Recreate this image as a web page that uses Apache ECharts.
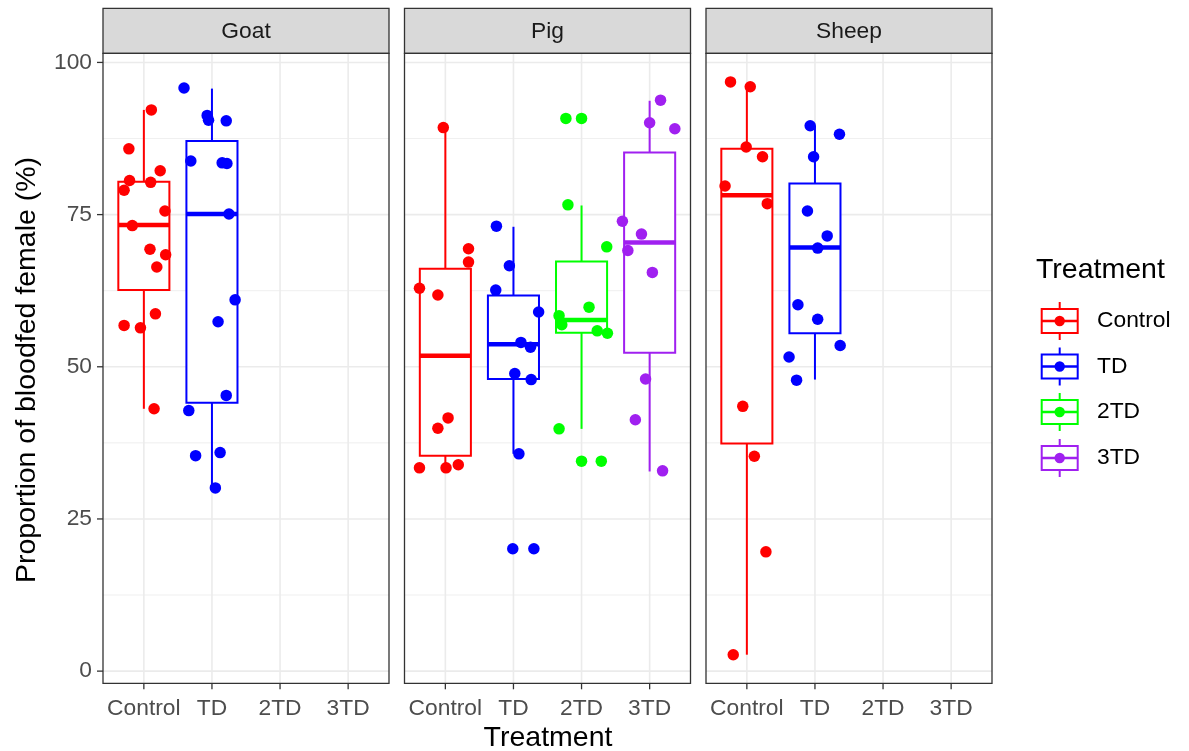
<!DOCTYPE html>
<html><head><meta charset="utf-8">
<script src="https://cdn.jsdelivr.net/npm/echarts@6/dist/echarts.min.js"></script>
<style>html,body{margin:0;padding:0;background:#fff}#c{width:1189px;height:751px}</style>
</head><body><div id="c"></div>
<script>
// ---------- data ----------
const facets = ['Goat', 'Pig', 'Sheep'];
const treatments = ['Control', 'TD', '2TD', '3TD'];
const yTicks = [0, 25, 50, 75, 100];
const yMinorTicks = [12.5, 37.5, 62.5, 87.5];
const xTicks = [1, 2, 3, 4];

// box stats: [lower whisker, Q1, median, Q3, upper whisker]
const goatControlBox = [43.1, 62.6, 73.3, 80.4, 92.2];
const goatTDBox = [30.1, 44.1, 75.1, 87.1, 95.7];
const pigControlBox = [33.4, 35.4, 51.8, 66.1, 89.3];
const pigTDBox = [35.7, 48.0, 53.7, 61.7, 73.0];
const pig2TDBox = [39.8, 55.6, 57.7, 67.3, 76.5];
const pig3TDBox = [32.8, 52.3, 70.4, 85.2, 93.7];
const sheepControlBox = [2.7, 37.4, 78.2, 85.8, 96.0];
const sheepTDBox = [47.9, 55.5, 69.6, 80.1, 89.6];

// observations (%), with horizontal jitter (in category units)
const goatControlY = [92.2, 85.8, 82.2, 80.6, 80.3, 79.0, 75.6, 73.2, 69.3, 68.4, 66.4, 58.7, 56.8, 56.4, 43.1];
const goatControlJitter = [0.11, -0.22, 0.24, -0.21, 0.10, -0.29, 0.31, -0.17, 0.09, 0.32, 0.19, 0.17, -0.29, -0.05, 0.15];
const goatTDY = [95.8, 91.3, 90.5, 90.4, 83.8, 83.5, 83.4, 75.1, 61.0, 57.4, 45.3, 42.8, 35.4, 35.9, 30.1];
const goatTDJitter = [-0.41, -0.07, -0.05, 0.21, -0.31, 0.15, 0.22, 0.25, 0.34, 0.09, 0.21, -0.34, -0.24, 0.12, 0.05];
const pigControlY = [89.3, 69.4, 67.2, 62.9, 61.8, 41.6, 39.9, 33.4, 33.4, 33.9];
const pigControlJitter = [-0.03, 0.34, 0.34, -0.38, -0.11, 0.04, -0.11, -0.38, 0.01, 0.19];
const pigTDY = [73.1, 66.6, 62.6, 59.0, 54.0, 53.2, 48.9, 47.9, 35.7, 20.1, 20.1];
const pigTDJitter = [-0.25, -0.06, -0.26, 0.37, 0.11, 0.25, 0.02, 0.26, 0.08, -0.01, 0.30];
const pig2TDY = [90.8, 90.8, 76.6, 69.7, 59.8, 58.4, 56.9, 55.9, 55.5, 39.8, 34.5, 34.5];
const pig2TDJitter = [-0.23, 0, -0.20, 0.37, 0.11, -0.33, -0.29, 0.23, 0.38, -0.33, 0, 0.29];
const pig3TDY = [93.8, 90.1, 89.1, 73.9, 71.8, 69.1, 65.5, 48.0, 41.3, 32.9];
const pig3TDJitter = [0.16, 0, 0.37, -0.40, -0.12, -0.32, 0.04, -0.06, -0.21, 0.19];
const sheepControlY = [96.8, 96.0, 86.1, 84.5, 79.7, 76.8, 43.5, 35.3, 19.6, 2.7];
const sheepControlJitter = [-0.24, 0.05, -0.01, 0.23, -0.32, 0.30, -0.06, 0.11, 0.28, -0.20];
const sheepTDY = [89.6, 88.2, 84.5, 75.6, 71.5, 69.5, 60.2, 57.8, 53.5, 51.6, 47.8];
const sheepTDJitter = [-0.07, 0.36, -0.02, -0.11, 0.18, 0.04, -0.25, 0.04, 0.37, -0.38, -0.27];

// groups: [facetIndex, treatmentIndex, box, values, jitter]
const groups = [
  [0, 0, goatControlBox, goatControlY, goatControlJitter],
  [0, 1, goatTDBox, goatTDY, goatTDJitter],
  [1, 0, pigControlBox, pigControlY, pigControlJitter],
  [1, 1, pigTDBox, pigTDY, pigTDJitter],
  [1, 2, pig2TDBox, pig2TDY, pig2TDJitter],
  [1, 3, pig3TDBox, pig3TDY, pig3TDJitter],
  [2, 0, sheepControlBox, sheepControlY, sheepControlJitter],
  [2, 1, sheepTDBox, sheepTDY, sheepTDJitter]
];

// ---------- style / layout ----------
const colors = ['#FF0000', '#0000FF', '#00FF00', '#A020F0'];
const FONT = '"Liberation Sans", Arial, Helvetica, sans-serif';
const X_MIN = 0.4, X_MAX = 4.6, Y_MIN = -2.0, Y_MAX = 101.5;
const panelLefts = [103, 404.5, 706];
const PANEL_W = 286, PANEL_TOP = 53.3, PANEL_H = 630;
const STRIP_TOP = 8.3;
const BOX_WIDTH = 0.75;
const TICK_FS = 22.8, TITLE_FS = 28.5;
const TICK_LEN = 6;

const chart = echarts.init(document.getElementById('c'), null, {renderer: 'canvas'});

const grids = [], xAxes = [], yAxes = [], series = [], graphics = [];

function makeGridRender(withYTicks) {
  return function (params, api) {
    const ch = [];
    const x0 = api.coord([X_MIN, 0])[0], x1 = api.coord([X_MAX, 0])[0];
    const yT = api.coord([1, Y_MAX])[1], yB = api.coord([1, Y_MIN])[1];
    yMinorTicks.forEach(v => {
      const y = api.coord([1, v])[1];
      ch.push({type: 'line', shape: {x1: x0, y1: y, x2: x1, y2: y}, style: {stroke: '#EBEBEB', lineWidth: 0.8}});
    });
    yTicks.forEach(v => {
      const y = api.coord([1, v])[1];
      ch.push({type: 'line', shape: {x1: x0, y1: y, x2: x1, y2: y}, style: {stroke: '#EBEBEB', lineWidth: 1.6}});
      if (withYTicks) {
        ch.push({type: 'line', shape: {x1: x0 - TICK_LEN, y1: y, x2: x0, y2: y}, style: {stroke: '#333333', lineWidth: 1.3}});
      }
    });
    xTicks.forEach(v => {
      const x = api.coord([v, 0])[0];
      ch.push({type: 'line', shape: {x1: x, y1: yT, x2: x, y2: yB}, style: {stroke: '#EBEBEB', lineWidth: 1.6}});
      ch.push({type: 'line', shape: {x1: x, y1: yB, x2: x, y2: yB + TICK_LEN}, style: {stroke: '#333333', lineWidth: 1.3}});
    });
    return {type: 'group', children: ch};
  };
}

function boxRender(params, api) {
  const x = api.value(0);
  const lo = api.coord([x, api.value(1)]);
  const q1 = api.coord([x, api.value(2)]);
  const md = api.coord([x, api.value(3)]);
  const q3 = api.coord([x, api.value(4)]);
  const hi = api.coord([x, api.value(5)]);
  const hw = api.size([BOX_WIDTH, 0])[0] / 2;
  const col = colors[api.value(6)];
  return {type: 'group', children: [
    {type: 'line', shape: {x1: lo[0], y1: lo[1], x2: q1[0], y2: q1[1]}, style: {stroke: col, lineWidth: 2}},
    {type: 'line', shape: {x1: q3[0], y1: q3[1], x2: hi[0], y2: hi[1]}, style: {stroke: col, lineWidth: 2}},
    {type: 'rect', shape: {x: q3[0] - hw, y: q3[1], width: 2 * hw, height: q1[1] - q3[1]}, style: {fill: '#fff', stroke: col, lineWidth: 2}},
    {type: 'line', shape: {x1: md[0] - hw, y1: md[1], x2: md[0] + hw, y2: md[1]}, style: {stroke: col, lineWidth: 4.5}}
  ]};
}

facets.forEach((f, i) => {
  grids.push({left: panelLefts[i], top: PANEL_TOP, width: PANEL_W, height: PANEL_H, containLabel: false});
  xAxes.push({
    type: 'value', gridIndex: i, min: X_MIN, max: X_MAX, position: 'bottom',
    splitLine: {show: false}, axisLine: {show: false, onZero: false},
    axisTick: {show: false},
    axisLabel: {show: true, customValues: xTicks, margin: 14, fontSize: TICK_FS, color: '#4D4D4D', fontFamily: FONT,
      formatter: v => treatments[Math.round(v) - 1] || ''}
  });
  yAxes.push({
    type: 'value', gridIndex: i, min: Y_MIN, max: Y_MAX, position: 'left',
    splitLine: {show: false}, axisLine: {show: false, onZero: false},
    axisTick: {show: false},
    axisLabel: {show: i === 0, customValues: yTicks, margin: 11, fontSize: TICK_FS, color: '#4D4D4D', fontFamily: FONT}
  });
  series.push({type: 'custom', xAxisIndex: i, yAxisIndex: i, silent: true, z: 1, clip: false,
    renderItem: makeGridRender(i === 0), data: [[1, 50]]});
  // strip
  graphics.push({type: 'rect', z: 100, shape: {x: panelLefts[i], y: STRIP_TOP, width: PANEL_W, height: PANEL_TOP - STRIP_TOP},
    style: {fill: '#D9D9D9', stroke: '#333333', lineWidth: 1.3}});
  graphics.push({type: 'text', z: 101, x: panelLefts[i] + PANEL_W / 2, y: (STRIP_TOP + PANEL_TOP) / 2 + 1,
    style: {text: f, fill: '#1A1A1A', font: TICK_FS + 'px ' + FONT, textAlign: 'center', textVerticalAlign: 'middle'}});
  // panel border
  graphics.push({type: 'rect', z: 100, shape: {x: panelLefts[i], y: PANEL_TOP, width: PANEL_W, height: PANEL_H},
    style: {fill: 'none', stroke: '#333333', lineWidth: 1.3}});
});

groups.forEach(g => {
  const [fi, ti, box, ys, js] = g;
  series.push({type: 'custom', xAxisIndex: fi, yAxisIndex: fi, z: 3, silent: true,
    renderItem: boxRender, encode: {x: 0, y: [1, 2, 3, 4, 5]},
    data: [[ti + 1, box[0], box[1], box[2], box[3], box[4], ti]]});
  series.push({type: 'scatter', name: treatments[ti], xAxisIndex: fi, yAxisIndex: fi, z: 4, silent: true,
    symbol: 'circle', symbolSize: 11.5, itemStyle: {color: colors[ti], opacity: 1},
    data: ys.map((y, k) => [ti + 1 + js[k], y])});
});

// axis titles
graphics.push({type: 'text', z: 101, x: 548, y: 738,
  style: {text: 'Treatment', fill: '#000', font: TITLE_FS + 'px ' + FONT, textAlign: 'center', textVerticalAlign: 'middle'}});
graphics.push({type: 'text', z: 101, x: 27, y: 370, rotation: Math.PI / 2,
  style: {text: 'Proportion of bloodfed female (%)', fill: '#000', font: TITLE_FS + 'px ' + FONT, textAlign: 'center', textVerticalAlign: 'middle'}});

// legend
graphics.push({type: 'text', z: 101, x: 1036, y: 270,
  style: {text: 'Treatment', fill: '#000', font: TITLE_FS + 'px ' + FONT, textAlign: 'left', textVerticalAlign: 'middle'}});
const legY = [321, 366.5, 412, 458];
treatments.forEach((t, k) => {
  const cy = legY[k], cx = 1059.7, col = colors[k];
  graphics.push({type: 'line', z: 101, shape: {x1: cx, y1: cy - 19, x2: cx, y2: cy + 19}, style: {stroke: col, lineWidth: 2}});
  graphics.push({type: 'rect', z: 102, shape: {x: cx - 18, y: cy - 12, width: 36, height: 24}, style: {fill: '#fff', stroke: col, lineWidth: 2}});
  graphics.push({type: 'line', z: 103, shape: {x1: cx - 18, y1: cy, x2: cx + 18, y2: cy}, style: {stroke: col, lineWidth: 2.5}});
  graphics.push({type: 'circle', z: 104, shape: {cx: cx, cy: cy, r: 5.2}, style: {fill: col}});
  graphics.push({type: 'text', z: 101, x: 1097, y: cy,
    style: {text: t, fill: '#000', font: TICK_FS + 'px ' + FONT, textAlign: 'left', textVerticalAlign: 'middle'}});
});

chart.setOption({
  backgroundColor: '#fff',
  animation: false,
  grid: grids, xAxis: xAxes, yAxis: yAxes, series: series,
  graphic: {elements: graphics}
});
</script></body></html>
